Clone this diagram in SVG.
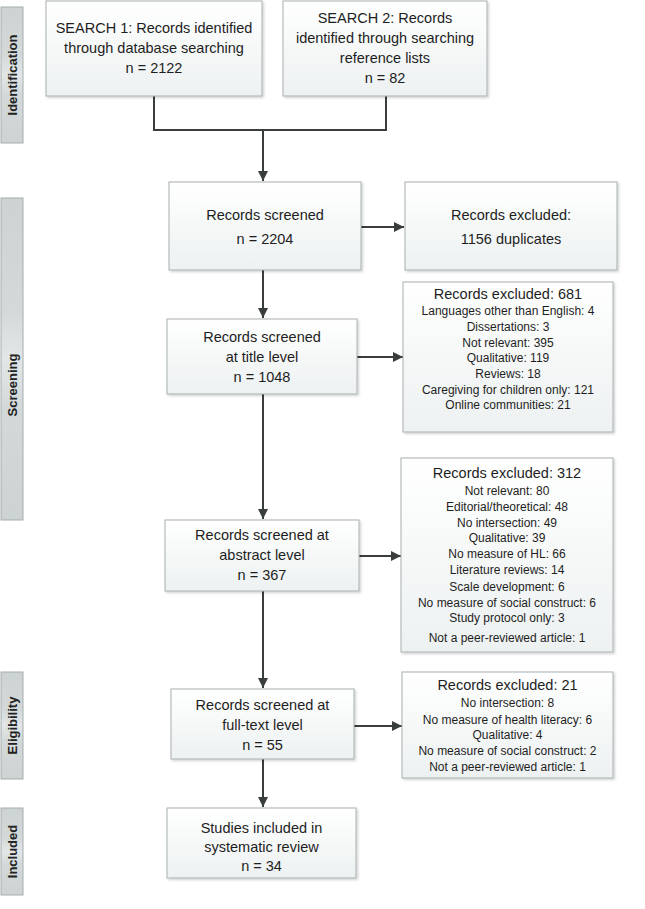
<svg xmlns="http://www.w3.org/2000/svg" width="645" height="909" viewBox="0 0 645 909">
<defs>
<linearGradient id="boxg" x1="0" y1="0" x2="0" y2="1">
<stop offset="0" stop-color="#ffffff"/>
<stop offset="1" stop-color="#edf1f1"/>
</linearGradient>
<linearGradient id="barg" x1="0" y1="0" x2="0" y2="1">
<stop offset="0" stop-color="#cdd3d3"/>
<stop offset="0.35" stop-color="#d3d9d9"/>
<stop offset="0.5" stop-color="#e2e6e6"/>
<stop offset="0.65" stop-color="#d3d9d9"/>
<stop offset="1" stop-color="#cdd3d3"/>
</linearGradient>
<filter id="sh" x="-5%" y="-5%" width="115%" height="120%">
<feDropShadow dx="1.5" dy="1.5" stdDeviation="1.2" flood-color="#000" flood-opacity="0.18"/>
</filter>
<marker id="ah" viewBox="0 0 10 10" refX="10" refY="5" markerWidth="10" markerHeight="10" markerUnits="userSpaceOnUse" orient="auto">
<path d="M0,0 L10,5 L0,10 Z" fill="#3a3d3d"/>
</marker>
</defs>
<style>
.box{fill:url(#boxg);stroke:#a7b0b0;stroke-width:1;filter:url(#sh)}
.bar{fill:url(#barg);stroke:#a5adad;stroke-width:1}
.t{font-family:"Liberation Sans",Arial,sans-serif;font-size:14.5px;fill:#1e1e1e;text-anchor:middle}
.s{font-family:"Liberation Sans",Arial,sans-serif;font-size:12px;fill:#1e1e1e;text-anchor:middle}
.bt{font-family:"Liberation Sans",Arial,sans-serif;font-size:13px;font-weight:bold;fill:#222;text-anchor:middle}
.c{fill:none;stroke:#3a3d3d;stroke-width:2}
</style>
<rect width="645" height="909" fill="#ffffff"/>

<g id="bar-identification">
<rect class="bar" x="1" y="7" width="22" height="136"/>
<text class="bt" transform="translate(16.5,75) rotate(-90)">Identification</text>
</g>
<g id="bar-screening">
<rect class="bar" x="1" y="198" width="22" height="322"/>
<text class="bt" transform="translate(16.5,385) rotate(-90)">Screening</text>
</g>
<g id="bar-eligibility">
<rect class="bar" x="1" y="672" width="22" height="107"/>
<text class="bt" transform="translate(16.5,725.5) rotate(-90)">Eligibility</text>
</g>
<g id="bar-included">
<rect class="bar" x="1" y="808" width="22" height="87"/>
<text class="bt" transform="translate(16.5,851.5) rotate(-90)">Included</text>
</g>

<g id="connectors">
<polyline class="c" points="154,96 154,130 386,130 386,96"/>
<line class="c" x1="263" y1="130" x2="263" y2="181" marker-end="url(#ah)"/>
<line class="c" x1="361" y1="227" x2="404" y2="227" marker-end="url(#ah)"/>
<line class="c" x1="263" y1="270" x2="263" y2="318" marker-end="url(#ah)"/>
<line class="c" x1="357" y1="357" x2="403" y2="357" marker-end="url(#ah)"/>
<line class="c" x1="263" y1="394" x2="263" y2="519" marker-end="url(#ah)"/>
<line class="c" x1="359" y1="556" x2="401" y2="556" marker-end="url(#ah)"/>
<line class="c" x1="263" y1="591" x2="263" y2="688" marker-end="url(#ah)"/>
<line class="c" x1="354" y1="726" x2="402" y2="726" marker-end="url(#ah)"/>
<line class="c" x1="263" y1="759" x2="263" y2="807" marker-end="url(#ah)"/>
</g>

<g id="search1">
<rect class="box" x="46" y="1" width="216" height="95"/>
<text class="t" x="154" y="33">SEARCH 1: Records identified</text>
<text class="t" x="154" y="53">through database searching</text>
<text class="t" x="154" y="73">n = 2122</text>
</g>
<g id="search2">
<rect class="box" x="283" y="1" width="204" height="95"/>
<text class="t" x="385" y="23">SEARCH 2: Records</text>
<text class="t" x="385" y="43">identified through searching</text>
<text class="t" x="385" y="63">reference lists</text>
<text class="t" x="385" y="83">n = 82</text>
</g>
<g id="screened">
<rect class="box" x="169" y="182" width="192" height="88"/>
<text class="t" x="265" y="220">Records screened</text>
<text class="t" x="265" y="244">n = 2204</text>
</g>
<g id="excluded-duplicates">
<rect class="box" x="405" y="182" width="212" height="88"/>
<text class="t" x="511" y="220">Records excluded:</text>
<text class="t" x="511" y="244">1156 duplicates</text>
</g>
<g id="title-level">
<rect class="box" x="167" y="319" width="190" height="75"/>
<text class="t" x="262" y="342">Records screened</text>
<text class="t" x="262" y="362">at title level</text>
<text class="t" x="262" y="382">n = 1048</text>
</g>
<g id="excluded-681">
<rect class="box" x="403" y="282" width="210" height="150"/>
<text class="t" x="508" y="299">Records excluded: 681</text>
<text class="s" x="508" y="315">Languages other than English: 4</text>
<text class="s" x="508" y="331">Dissertations: 3</text>
<text class="s" x="508" y="347">Not relevant: 395</text>
<text class="s" x="508" y="362">Qualitative: 119</text>
<text class="s" x="508" y="378">Reviews: 18</text>
<text class="s" x="508" y="394">Caregiving for children only: 121</text>
<text class="s" x="508" y="409">Online communities: 21</text>
</g>
<g id="abstract-level">
<rect class="box" x="165" y="520" width="194" height="71"/>
<text class="t" x="262" y="540">Records screened at</text>
<text class="t" x="262" y="560">abstract level</text>
<text class="t" x="262" y="580">n = 367</text>
</g>
<g id="excluded-312">
<rect class="box" x="401" y="458" width="212" height="194"/>
<text class="t" x="507" y="478">Records excluded: 312</text>
<text class="s" x="507" y="495">Not relevant: 80</text>
<text class="s" x="507" y="511">Editorial/theoretical: 48</text>
<text class="s" x="507" y="527">No intersection: 49</text>
<text class="s" x="507" y="542">Qualitative: 39</text>
<text class="s" x="507" y="558">No measure of HL: 66</text>
<text class="s" x="507" y="574">Literature reviews: 14</text>
<text class="s" x="507" y="591">Scale development: 6</text>
<text class="s" x="507" y="607">No measure of social construct: 6</text>
<text class="s" x="507" y="622">Study protocol only: 3</text>
<text class="s" x="507" y="642">Not a peer-reviewed article: 1</text>
</g>
<g id="fulltext-level">
<rect class="box" x="171" y="689" width="183" height="70"/>
<text class="t" x="262.5" y="710">Records screened at</text>
<text class="t" x="262.5" y="730">full-text level</text>
<text class="t" x="262.5" y="750">n = 55</text>
</g>
<g id="excluded-21">
<rect class="box" x="402" y="672" width="211" height="106"/>
<text class="t" x="507.5" y="690">Records excluded: 21</text>
<text class="s" x="507.5" y="707">No intersection: 8</text>
<text class="s" x="507.5" y="724">No measure of health literacy: 6</text>
<text class="s" x="507.5" y="739">Qualitative: 4</text>
<text class="s" x="507.5" y="755">No measure of social construct: 2</text>
<text class="s" x="507.5" y="771">Not a peer-reviewed article: 1</text>
</g>
<g id="included">
<rect class="box" x="167" y="808" width="189" height="70"/>
<text class="t" x="261.5" y="833">Studies included in</text>
<text class="t" x="261.5" y="852">systematic review</text>
<text class="t" x="261.5" y="871">n = 34</text>
</g>
</svg>
